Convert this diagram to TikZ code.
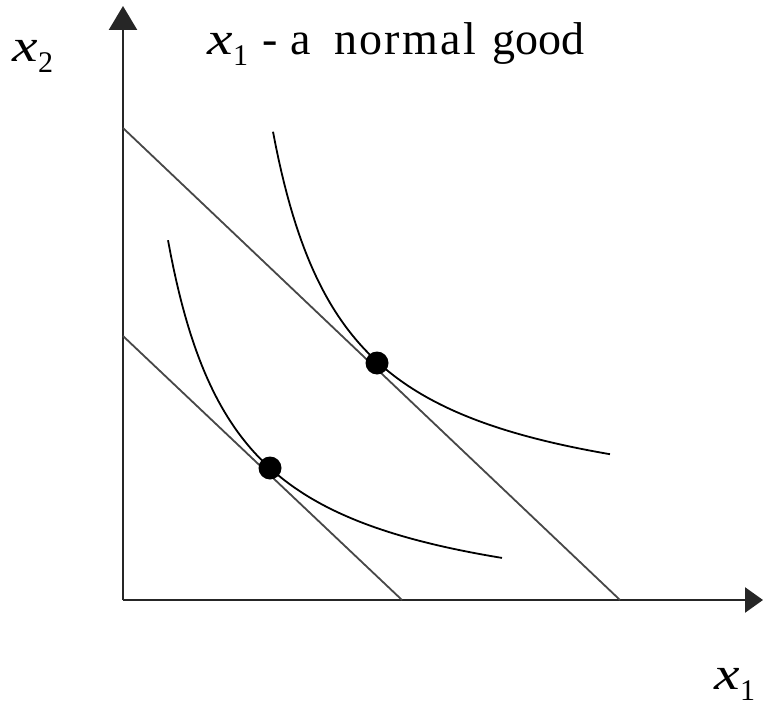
\documentclass[tikz,border=0pt]{standalone}
\usepackage{fontspec}
\usepackage{graphicx}
\setmainfont{Liberation Serif}
\usetikzlibrary{arrows.meta}
\newcommand\varlab[1]{\scalebox{1.25}[1]{\itshape x}\kern0.5pt\raisebox{-11pt}{\fontsize{30}{30}\selectfont #1}}
\begin{document}
\begin{tikzpicture}[x=1pt,y=-1pt,
  axis/.style={line width=2.6pt,draw=black!85},
  budget/.style={line width=1.8pt,draw=black!72},
  indiff/.style={line width=1.8pt,draw=black},
  optdot/.style={circle,fill=black,inner sep=0pt,minimum size=23pt},
  lbl/.style={inner sep=0pt,anchor=base west,font=\fontsize{46}{50}\selectfont}]
\useasboundingbox (0,0) rectangle (763,706);
\coordinate (O) at (123,600);
\coordinate (ytop) at (123,6);
\coordinate (xend) at (763,600);
\draw[axis,-{Triangle[length=24pt,width=28pt]}] (O) -- (ytop);
\draw[axis,-{Triangle[length=18pt,width=25pt]}] (O) -- (xend);
% budget lines
\coordinate (b1a) at (123,128);
\coordinate (b1b) at (620,600);
\coordinate (b0a) at (123,336);
\coordinate (b0b) at (402,600);
\draw[budget] (b1a) -- (b1b);
\draw[budget] (b0a) -- (b0b);
% indifference curves
\draw[indiff] plot[domain=273:610,samples=120] (\x,{525-291/((\x-199)/100)});
\draw[indiff] plot[domain=168:502,samples=120] (\x,{624.5-269/((\x-98)/100)});
% optimum points
\node[optdot] (p1) at (377,363) {};
\node[optdot] (p0) at (270,468) {};
% title
\node[lbl] (tx) at (207,55) {\varlab{1}};
\node[lbl] (tdash) at (262,55) {-};
\node[lbl] (ta) at (290,55) {a};
\node[lbl] (tnormal) at (334,55) {\addfontfeatures{LetterSpace=5}normal};
\node[lbl] (tgood) at (492,55) {good};
% axis labels
\node[lbl] (ylab) at (12,62) {\varlab{2}};
\node[lbl] (xlab) at (714,689) {\varlab{1}};
\end{tikzpicture}
\end{document}
